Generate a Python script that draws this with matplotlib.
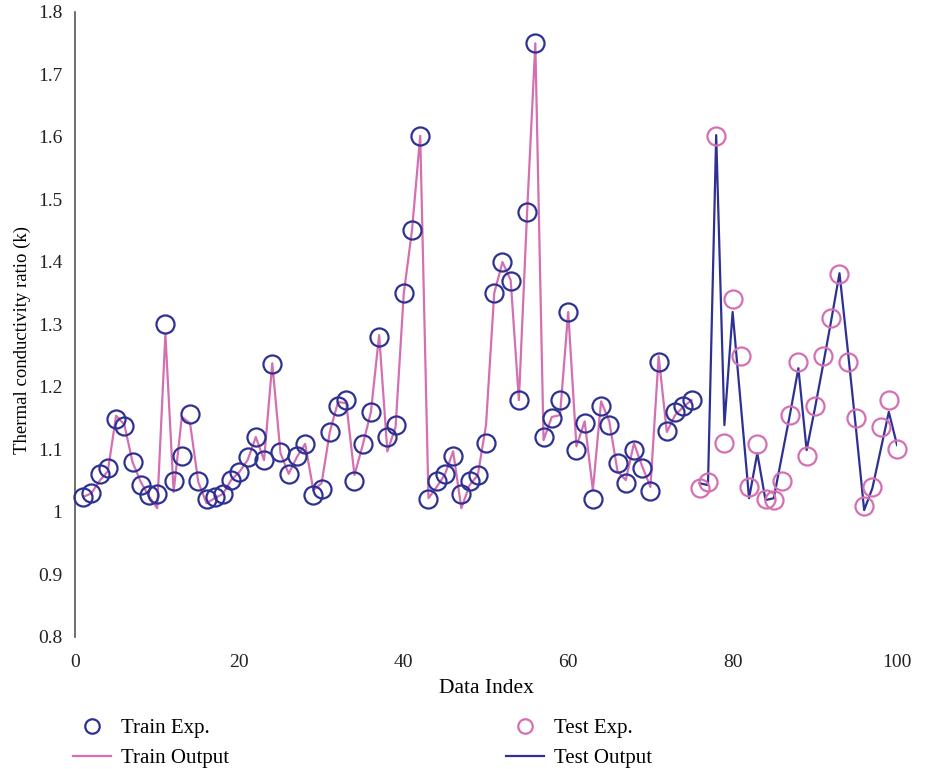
import numpy as np
import matplotlib.pyplot as plt

plt.rcParams['font.family'] = ['Liberation Serif', 'DejaVu Serif']

navy = '#2e3192'
pink = '#d470b2'

# experimental values, train set (index 1..75)
train_exp = [1.024, 1.030, 1.060, 1.070, 1.148, 1.138, 1.080, 1.043, 1.027, 1.029,
             1.300, 1.050, 1.090, 1.157, 1.050, 1.020, 1.024, 1.029, 1.051, 1.064,
             1.088, 1.120, 1.083, 1.237, 1.096, 1.060, 1.090, 1.109, 1.027, 1.037,
             1.128, 1.170, 1.179, 1.050, 1.109, 1.160, 1.280, 1.120, 1.139, 1.350,
             1.451, 1.602, 1.020, 1.050, 1.060, 1.090, 1.029, 1.050, 1.059, 1.110,
             1.350, 1.400, 1.370, 1.179, 1.480, 1.750, 1.120, 1.150, 1.179, 1.320,
             1.099, 1.142, 1.020, 1.170, 1.139, 1.078, 1.046, 1.099, 1.070, 1.034,
             1.240, 1.130, 1.160, 1.170, 1.179]
# model output, train set
train_out = [1.024, 1.030, 1.050, 1.065, 1.154, 1.140, 1.080, 1.048, 1.025, 1.006,
             1.285, 1.032, 1.152, 1.142, 1.048, 1.014, 1.022, 1.029, 1.051, 1.064,
             1.083, 1.120, 1.083, 1.238, 1.094, 1.061, 1.088, 1.109, 1.035, 1.046,
             1.128, 1.176, 1.174, 1.059, 1.107, 1.160, 1.283, 1.097, 1.136, 1.350,
             1.451, 1.602, 1.022, 1.040, 1.060, 1.097, 1.006, 1.043, 1.059, 1.139,
             1.350, 1.400, 1.371, 1.179, 1.480, 1.750, 1.115, 1.152, 1.155, 1.320,
             1.105, 1.145, 1.035, 1.177, 1.145, 1.065, 1.051, 1.110, 1.073, 1.040,
             1.249, 1.128, 1.155, 1.168, 1.179]

# test set (index 76..100)
test_exp = [1.038, 1.048, 1.602, 1.110, 1.340, 1.250, 1.040, 1.109, 1.021, 1.019,
            1.050, 1.155, 1.240, 1.090, 1.170, 1.250, 1.310, 1.381, 1.240, 1.150,
            1.010, 1.040, 1.136, 1.179, 1.100]
test_out = [1.046, 1.043, 1.603, 1.139, 1.320, 1.171, 1.022, 1.094, 1.019, 1.022,
            1.090, 1.158, 1.230, 1.099, 1.165, 1.235, 1.307, 1.382, 1.260, 1.134,
            1.003, 1.038, 1.099, 1.160, 1.107]

train_idx = np.arange(1, len(train_exp) + 1)
test_idx = np.arange(len(train_exp) + 1, len(train_exp) + len(test_exp) + 1)

fig = plt.figure(figsize=(9.29, 7.69), dpi=100)
ax = fig.add_axes([0.0807, 0.1717, 0.8849, 0.8127])

l1, = ax.plot(train_idx, train_exp, 'o', ms=13, mfc='none', mec=navy, mew=1.6,
              label='Train Exp.', clip_on=False, zorder=3)
l2, = ax.plot(train_idx, train_out, '-', color=pink, lw=1.6, label='Train Output', zorder=2)
l3, = ax.plot(test_idx, test_exp, 'o', ms=13, mfc='none', mec=pink, mew=1.6,
              label='Test Exp.', clip_on=False, zorder=3)
l4, = ax.plot(test_idx, test_out, '-', color=navy, lw=1.6, label='Test Output', zorder=2)

ax.set_xlim(0, 100)
ax.set_ylim(0.8, 1.8)
ax.set_xticks(np.arange(0, 101, 20))
ax.set_yticks(np.arange(0.8, 1.81, 0.1))
ax.set_yticklabels(['0.8', '0.9', '1', '1.1', '1.2', '1.3', '1.4', '1.5', '1.6', '1.7', '1.8'])

for s in ['top', 'right', 'bottom']:
    ax.spines[s].set_visible(False)
ax.spines['left'].set_color('#555555')
ax.spines['left'].set_linewidth(1.2)
ax.tick_params(length=0, labelsize=14, colors='#222222')
ax.tick_params(axis='x', pad=12)
ax.tick_params(axis='y', pad=9)

ax.set_xlabel('Data Index', fontsize=15.5, labelpad=6)
ax.set_ylabel('Thermal conductivity ratio (k)', fontsize=13.5)
ax.yaxis.set_label_coords(-0.054, 0.475)

leg_kw = dict(frameon=False, loc='upper left', fontsize=15, handlelength=1.8,
              handletextpad=0.5, markerscale=0.8, labelspacing=0.5,
              borderpad=0, borderaxespad=0)
fig.legend([l1, l2], ['Train Exp.', 'Train Output'],
           bbox_to_anchor=(73 / 929, 0.066), **leg_kw)
fig.legend([l3, l4], ['Test Exp.', 'Test Output'],
           bbox_to_anchor=(506 / 929, 0.066), **leg_kw)

plt.savefig('out.png', dpi=100)
